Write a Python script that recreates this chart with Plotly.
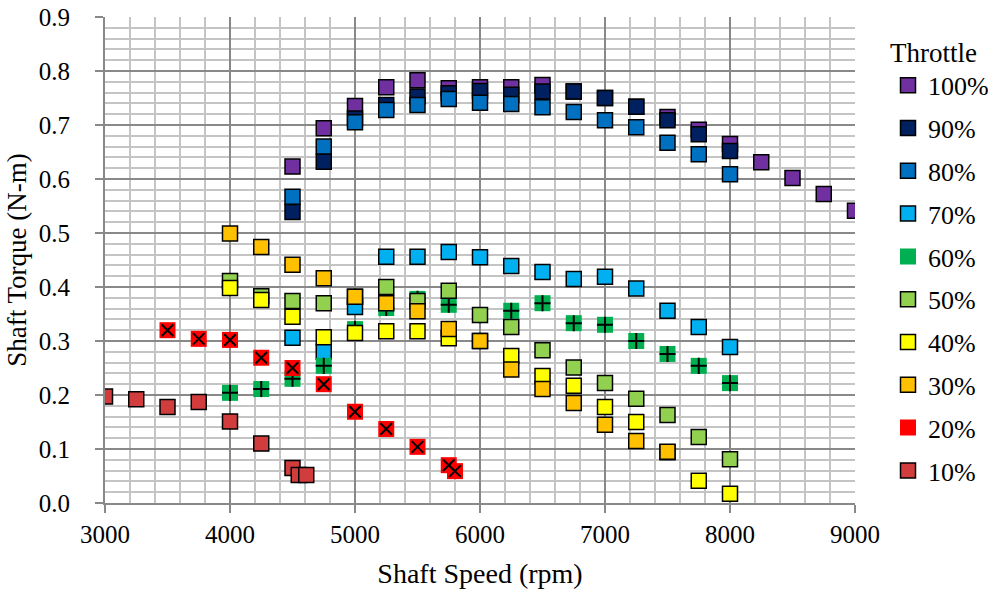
import plotly.graph_objects as go

# ---- data ----
rpm_100 = [4500, 4750, 5000, 5250, 5500, 5750, 6000, 6250, 6500, 6750, 7000, 7250, 7500, 7750, 8000, 8250, 8500, 8750, 9000]
tq_100 = [0.623, 0.694, 0.735, 0.770, 0.783, 0.768, 0.770, 0.770, 0.774, 0.762, 0.750, 0.734, 0.715, 0.691, 0.665, 0.631, 0.602, 0.572, 0.541]

rpm_90 = [4500, 4750, 5000, 5250, 5500, 5750, 6000, 6250, 6500, 6750, 7000, 7250, 7500, 7750, 8000]
tq_90 = [0.539, 0.632, 0.712, 0.737, 0.753, 0.759, 0.763, 0.756, 0.762, 0.762, 0.750, 0.734, 0.709, 0.683, 0.652]

rpm_80 = [4500, 4750, 5000, 5250, 5500, 5750, 6000, 6250, 6500, 6750, 7000, 7250, 7500, 7750, 8000]
tq_80 = [0.567, 0.660, 0.705, 0.728, 0.737, 0.748, 0.741, 0.739, 0.733, 0.724, 0.709, 0.696, 0.667, 0.646, 0.609]

rpm_70 = [4500, 4750, 5000, 5250, 5500, 5750, 6000, 6250, 6500, 6750, 7000, 7250, 7500, 7750, 8000]
tq_70 = [0.306, 0.280, 0.363, 0.456, 0.456, 0.465, 0.455, 0.439, 0.428, 0.415, 0.419, 0.397, 0.356, 0.326, 0.289]

rpm_60 = [4000, 4250, 4500, 4750, 5000, 5250, 5500, 5750, 6000, 6250, 6500, 6750, 7000, 7250, 7500, 7750, 8000]
tq_60 = [0.204, 0.211, 0.230, 0.254, 0.322, 0.361, 0.378, 0.367, 0.348, 0.356, 0.370, 0.333, 0.330, 0.300, 0.276, 0.254, 0.222]

rpm_50 = [4000, 4250, 4500, 4750, 5000, 5250, 5500, 5750, 6000, 6250, 6500, 6750, 7000, 7250, 7500, 7750, 8000]
tq_50 = [0.411, 0.383, 0.374, 0.370, 0.382, 0.400, 0.374, 0.393, 0.348, 0.326, 0.283, 0.251, 0.222, 0.193, 0.163, 0.122, 0.081]

rpm_40 = [4000, 4250, 4500, 4750, 5000, 5250, 5500, 5750, 6000, 6250, 6500, 6750, 7000, 7250, 7500, 7750, 8000]
tq_40 = [0.398, 0.376, 0.345, 0.307, 0.315, 0.318, 0.318, 0.305, 0.300, 0.272, 0.235, 0.217, 0.178, 0.150, 0.094, 0.041, 0.017]

rpm_30 = [4000, 4250, 4500, 4750, 5000, 5250, 5500, 5750, 6000, 6250, 6500, 6750, 7000, 7250, 7500]
tq_30 = [0.499, 0.474, 0.441, 0.416, 0.382, 0.370, 0.355, 0.322, 0.300, 0.247, 0.211, 0.185, 0.145, 0.115, 0.095]

rpm_20 = [3500, 3750, 4000, 4250, 4500, 4750, 5000, 5250, 5500, 5750, 5800]
tq_20 = [0.320, 0.304, 0.302, 0.269, 0.250, 0.220, 0.169, 0.137, 0.104, 0.070, 0.059]

rpm_10 = [3000, 3250, 3500, 3750, 4000, 4250, 4500, 4550, 4610]
tq_10 = [0.197, 0.192, 0.178, 0.187, 0.151, 0.110, 0.065, 0.052, 0.052]

x_ticks = [3000, 4000, 5000, 6000, 7000, 8000, 9000]
y_ticks = [0.0, 0.1, 0.2, 0.3, 0.4, 0.5, 0.6, 0.7, 0.8, 0.9]

series = [
    ("100%", rpm_100, tq_100, "#7030A0", None),
    ("90%", rpm_90, tq_90, "#002060", None),
    ("80%", rpm_80, tq_80, "#0070C0", None),
    ("70%", rpm_70, tq_70, "#00B0F0", None),
    ("60%", rpm_60, tq_60, "#00B050", "cross-thin"),
    ("50%", rpm_50, tq_50, "#92D050", None),
    ("40%", rpm_40, tq_40, "#FFFF00", None),
    ("30%", rpm_30, tq_30, "#FFC000", None),
    ("20%", rpm_20, tq_20, "#FF0000", "x-thin"),
    ("10%", rpm_10, tq_10, "#D13C3C", None),
]

FONT = "Times New Roman, Liberation Serif, serif"
fig = go.Figure()
for name, xs, ys, color, overlay in series:
    if overlay is None:
        fig.add_trace(go.Scatter(
            x=xs, y=ys, mode="markers", name=name, legendgroup=name,
            marker=dict(symbol="square", size=15, color=color,
                        line=dict(color="black", width=1.5)),
        ))
    else:
        fig.add_trace(go.Scatter(
            x=xs, y=ys, mode="markers", name=name, legendgroup=name,
            marker=dict(symbol="square", size=16, color=color,
                        line=dict(color=color, width=0)),
        ))
        fig.add_trace(go.Scatter(
            x=xs, y=ys, mode="markers", name=name, legendgroup=name,
            showlegend=False,
            marker=dict(symbol=overlay, size=11.5, color="black",
                        line=dict(color="black", width=2)),
        ))

fig.update_layout(
    width=988, height=594,
    margin=dict(l=105, r=133, t=17, b=91, autoexpand=False),
    paper_bgcolor="white", plot_bgcolor="white",
    font=dict(family=FONT, color="black", size=25),
    showlegend=True,
    legend=dict(
        title=dict(text="Throttle", font=dict(family=FONT, size=27)),
        font=dict(family=FONT, size=26),
        x=1.044, xanchor="left", y=0.98, yanchor="top",
        tracegroupgap=6, itemsizing="trace",
        bgcolor="rgba(0,0,0,0)",
    ),
)
fig.update_xaxes(
    range=[3000, 9000], tickvals=x_ticks, ticktext=[str(v) for v in x_ticks],
    showline=True, linecolor="#898989", linewidth=2,
    showgrid=True, gridcolor="#898989", gridwidth=1.5,
    ticks="outside", ticklen=8, tickcolor="#898989", tickwidth=2,
    ticklabelposition="outside", ticklabelstandoff=0,
    minor=dict(dtick=200, showgrid=True, gridcolor="#C4C4C4", gridwidth=1.5),
    zeroline=False,
    title=dict(text="Shaft Speed (rpm)", font=dict(family=FONT, size=28), standoff=16),
    tickfont=dict(family=FONT, size=25, color="black"),
    automargin=False,
)
fig.update_yaxes(
    range=[0, 0.9], tickvals=y_ticks, ticktext=[f"{v:.1f}" for v in y_ticks],
    showline=True, linecolor="#898989", linewidth=2,
    showgrid=True, gridcolor="#898989", gridwidth=1.5,
    ticks="outside", ticklen=8, tickcolor="#898989", tickwidth=2,
    ticklabelposition="outside", ticklabelstandoff=20,
    minor=dict(dtick=0.02, showgrid=True, gridcolor="#C4C4C4", gridwidth=1.5),
    zeroline=False,
    title=dict(text="Shaft Torque (N-m)", font=dict(family=FONT, size=27), standoff=4),
    tickfont=dict(family=FONT, size=25, color="black"),
    automargin=False,
)

fig.write_html("out.html")
